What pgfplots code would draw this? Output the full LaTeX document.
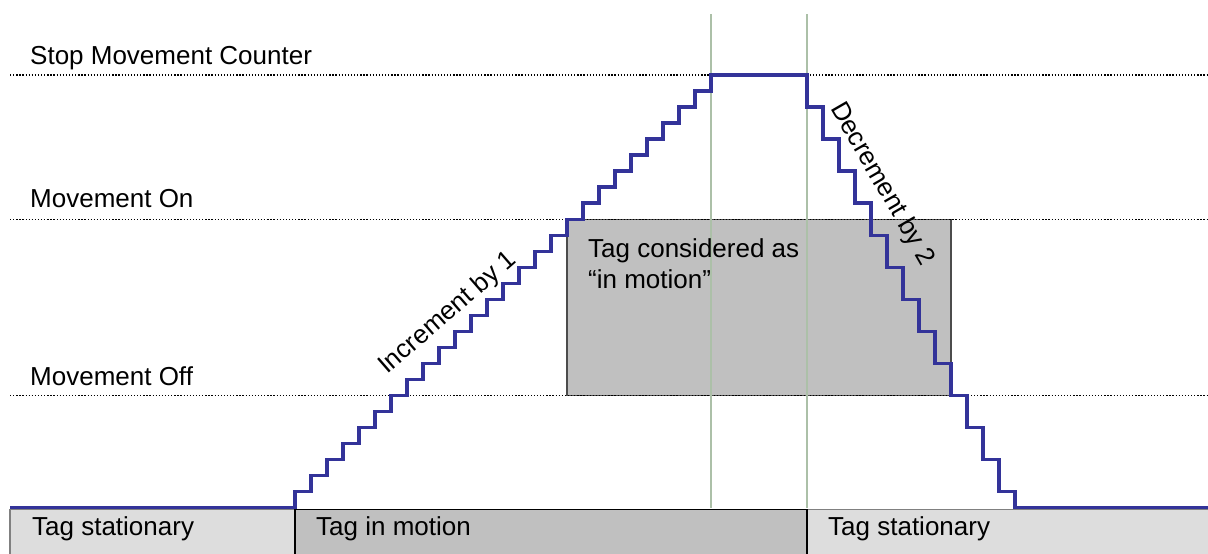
\documentclass[border=0pt]{standalone}
\usepackage{fontspec}
\setmainfont{Liberation Sans}
\usepackage{pgfplots}
\pgfplotsset{compat=1.18}
\definecolor{stepblue}{RGB}{51,51,153}
\definecolor{lightbox}{RGB}{221,221,221}
\definecolor{darkbox}{RGB}{192,192,192}
\definecolor{vline}{RGB}{172,192,168}
\begin{document}
\begin{tikzpicture}
\begin{axis}[scale only axis, width=1208pt, height=553pt,
  xmin=-17.4375, xmax=58.0625, ymin=-2.875, ymax=31.6875,
  hide axis, clip=false]
\coordinate (ll) at (rel axis cs:0,0);
\coordinate (ur) at (rel axis cs:1,1);
% bottom state boxes
\addplot[fill=lightbox, draw=gray, line width=1.5pt] coordinates {(-16.8125,-0.125) (1,-0.125) (1,-3.5) (-16.8125,-3.5)} -- cycle;
\addplot[fill=lightbox, draw=gray, line width=1.5pt] coordinates {(33,-0.125) (60,-0.125) (60,-3.5) (33,-3.5)} -- cycle;
\addplot[fill=darkbox, draw=black, line width=1.5pt] coordinates {(1,-0.125) (33,-0.125) (33,-3.5) (1,-3.5)} -- cycle;
% in-motion region
\addplot[fill=darkbox, draw=black!70, line width=1.5pt] coordinates {(18,7) (42,7) (42,18) (18,18)} -- cycle;
% threshold lines
\addplot[black, line width=1.3pt, dash pattern=on 1.3pt off 1.8pt] coordinates {(-16.8125,27) (58.0625,27)};
\addplot[black, line width=1.3pt, dash pattern=on 1.3pt off 1.8pt] coordinates {(-16.8125,18) (58.0625,18)};
\addplot[black, line width=1.3pt, dash pattern=on 1.3pt off 1.8pt] coordinates {(-16.8125,7) (58.0625,7)};
% vertical markers
\addplot[vline, line width=2pt] coordinates {(27,0) (27,30.8125)};
\addplot[vline, line width=2pt] coordinates {(33,0) (33,30.8125)};
% counter
\addplot[stepblue, line width=3.5pt, const plot] coordinates {
(-16.8125,0) (1,1) (2,2) (3,3) (4,4) (5,5) (6,6) (7,7) (8,8) (9,9) (10,10)
(11,11) (12,12) (13,13) (14,14) (15,15) (16,16) (17,17) (18,18) (19,19) (20,20)
(21,21) (22,22) (23,23) (24,24) (25,25) (26,26) (27,27)
(33,25) (34,23) (35,21) (36,19) (37,17) (38,15) (39,13) (40,11) (41,9) (42,7)
(43,5) (44,3) (45,1) (46,0) (58.0625,0)};
% labels
\tikzset{lbl/.style={font=\fontsize{26}{31}\selectfont, inner sep=0pt}}
\node[lbl, anchor=base west] at (axis cs:-15.5625,27.6875) {Stop Movement Counter};
\node[lbl, anchor=base west] at (axis cs:-15.5625,18.75) {Movement On};
\node[lbl, anchor=base west] at (axis cs:-15.5625,7.625) {Movement Off};
\node[lbl, anchor=base west] at (axis cs:-15.4375,-1.75) {Tag stationary};
\node[lbl, anchor=base west] at (axis cs:2.3125,-1.75) {Tag in motion};
\node[lbl, anchor=base west] at (axis cs:34.3125,-1.75) {Tag stationary};
\node[lbl, anchor=base west] at (axis cs:19.3125,15.625) {Tag considered as};
\node[lbl, anchor=base west] at (axis cs:19.3125,13.6875) {“in motion”};
\node[lbl, anchor=center, rotate=41] at (axis cs:10.5625,12.125) {Increment by 1};
\node[lbl, anchor=center, rotate=-60] at (axis cs:37.6875,20.1875) {Decrement by 2};
\end{axis}
\pgfresetboundingbox
\path[use as bounding box] (ll) rectangle (ur);
\end{tikzpicture}
\end{document}
